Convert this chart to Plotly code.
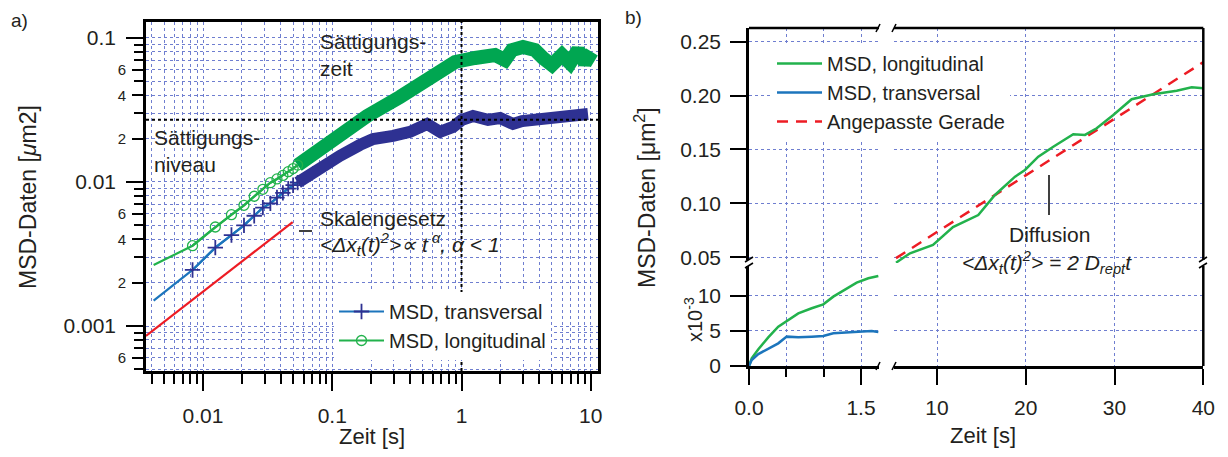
import plotly.graph_objects as go

# The page body keeps an 8 px margin, so the figure is 16 px smaller than the window
# and every reference pixel position is shifted by that margin.
WIN_W, WIN_H = 1228, 457
OFF = 8
W, H = WIN_W - 2 * OFF, WIN_H - 2 * OFF


def fx(p):
    return (p - OFF) / W


def fy(p):
    return 1 - (p - OFF) / H


# ---------------- Panel a) : log-log MSD ----------------
t_early = [0.00415, 0.0083, 0.01245, 0.0166, 0.02075, 0.0249, 0.02905,
           0.0332, 0.03735, 0.0415, 0.04565, 0.0498, 0.05395]
msd_long_early = [0.00265, 0.00361, 0.00487, 0.00593, 0.00689, 0.00796, 0.0089,
                  0.00989, 0.0105, 0.0111, 0.0118, 0.0124, 0.0131]
msd_trans_early = [0.0015, 0.00245, 0.0035, 0.00428, 0.0050, 0.00583, 0.00664,
                   0.0071, 0.0078, 0.0084, 0.0090, 0.0095, 0.0099]

t_long_band = [0.054, 0.1013, 0.1857, 0.334, 0.602, 0.891, 1.272, 1.816, 2.17,
               2.46, 2.99, 3.70, 4.27, 5.01, 5.99, 6.91, 7.97, 9.03, 10.2]
msd_long_band = [0.0131, 0.0196, 0.0287, 0.0389, 0.0528, 0.0681, 0.0726, 0.0762,
                 0.0703, 0.0825, 0.0866, 0.0825, 0.0726, 0.0649, 0.0762, 0.067,
                 0.0825, 0.067, 0.080]

t_trans_band = [0.054, 0.0804, 0.1013, 0.1148, 0.1639, 0.2067, 0.2951, 0.3995,
                0.541, 0.682, 0.859, 1.009, 1.227, 1.603, 1.986, 2.503, 2.938,
                3.575, 5.29, 6.55, 9.52]
msd_trans_band = [0.0099, 0.0127, 0.0140, 0.0152, 0.0181, 0.0199, 0.0209, 0.0223,
                  0.0253, 0.0223, 0.0241, 0.0270, 0.0287, 0.0270, 0.0278, 0.0253,
                  0.0265, 0.0270, 0.0283, 0.0287, 0.0297]

t_scaling = [0.00362, 0.0494]
msd_scaling = [0.000853, 0.00527]

saturation_time = 1.0
saturation_level = 0.027

a_xtick_vals = [0.01, 0.1, 1, 10]
a_xtick_text = ["0.01", "0.1", "1", "10"]
a_ytick_vals = [0.001, 0.01, 0.1]
a_ytick_text = ["0.001", "0.01", "0.1"]
a_ysmall_vals = [0.0006, 0.002, 0.004, 0.006, 0.02, 0.04, 0.06]
a_ysmall_text = ["6", "2", "4", "6", "2", "4", "6"]

# ---------------- Panel b) : linear, broken axes ----------------
t_short_long = [0, 0.036, 0.125, 0.258, 0.392, 0.505, 0.660, 0.840, 0.995,
                1.129, 1.286, 1.442, 1.598, 1.732]
msd_long_short_e3 = [0, 1.1, 2.37, 4.07, 5.59, 6.44, 7.48, 8.2, 8.76, 9.85,
                     10.8, 11.84, 12.46, 12.78]
t_short_trans = [0, 0.036, 0.125, 0.258, 0.392, 0.505, 0.660, 0.840, 0.995,
                 1.129, 1.286, 1.464, 1.643, 1.732]
msd_trans_short_e3 = [0, 0.85, 1.7, 2.5, 3.22, 4.17, 4.07, 4.17, 4.26, 4.64,
                      4.79, 4.88, 4.97, 4.83]

t_long = [5.38, 5.83, 6.96, 9.55, 11.8, 14.65, 16.53, 18.79, 19.91, 21.41, 23.1,
          25.35, 26.67, 27.99, 29.86, 31.93, 34.37, 37.0, 38.69, 40.0]
msd_long = [0.045, 0.0476, 0.0537, 0.0614, 0.078, 0.0892, 0.1078, 0.1248, 0.131,
            0.1433, 0.1526, 0.1641, 0.1635, 0.1697, 0.182, 0.1966, 0.2012,
            0.2045, 0.2077, 0.2068]

t_fit = [5.38, 40.0]
msd_fit = [0.0492, 0.231]

b_x_left_vals = [0, 1.5]
b_x_left_text = ["0.0", "1.5"]
b_x_left_minor = [0.5, 1.0]
b_x_right_vals = [10, 20, 30, 40]
b_y_low_vals = [0, 5, 10]
b_y_up_vals = [0.05, 0.10, 0.15, 0.20, 0.25]
b_y_up_text = ["0.05", "0.10", "0.15", "0.20", "0.25"]

# ---------------- styling ----------------
FONT = "Liberation Sans, Arial, Helvetica, sans-serif"
TXT = "#231F20"
GREEN_LINE = "#22B24C"
GREEN_BAND = "#00A651"
BLUE_LINE = "#1C75BC"
NAVY = "#2E3192"
RED = "#ED1C24"
GRID = "#6F7ED0"

fig = go.Figure()

# panel a traces
fig.add_trace(go.Scatter(x=t_trans_band, y=msd_trans_band, mode="lines",
                         line=dict(color=NAVY, width=12), showlegend=False,
                         xaxis="x", yaxis="y", hoverinfo="skip"))
fig.add_trace(go.Scatter(x=t_long_band, y=msd_long_band, mode="lines",
                         line=dict(color=GREEN_BAND, width=14), showlegend=False,
                         xaxis="x", yaxis="y", hoverinfo="skip"))
fig.add_trace(go.Scatter(x=t_scaling, y=msd_scaling, mode="lines",
                         line=dict(color=RED, width=2.2), showlegend=False,
                         xaxis="x", yaxis="y"))
fig.add_trace(go.Scatter(x=t_early, y=msd_trans_early, mode="lines",
                         line=dict(color=BLUE_LINE, width=2.2), showlegend=False,
                         xaxis="x", yaxis="y"))
fig.add_trace(go.Scatter(x=t_early, y=msd_long_early, mode="lines",
                         line=dict(color=GREEN_LINE, width=2.2), showlegend=False,
                         xaxis="x", yaxis="y"))
fig.add_trace(go.Scatter(x=t_early[1:], y=msd_trans_early[1:], mode="lines+markers",
                         name="MSD, transversal",
                         line=dict(color=BLUE_LINE, width=2.2),
                         marker=dict(symbol="cross-thin", size=11, color=NAVY,
                                     line=dict(color=NAVY, width=1.8)),
                         xaxis="x", yaxis="y", legend="legend"))
fig.add_trace(go.Scatter(x=t_early[1:], y=msd_long_early[1:], mode="lines+markers",
                         name="MSD, longitudinal",
                         line=dict(color=GREEN_LINE, width=2.2),
                         marker=dict(symbol="circle-open", size=10, color=GREEN_LINE,
                                     line=dict(color=GREEN_LINE, width=1.3)),
                         xaxis="x", yaxis="y", legend="legend"))
# reference lines (saturation time / level)
fig.add_trace(go.Scatter(x=[saturation_time, saturation_time], y=[10 ** -3.3125, 10 ** -0.889],
                         mode="lines", line=dict(color="black", width=2, dash="dot"),
                         showlegend=False, xaxis="x", yaxis="y"))
fig.add_trace(go.Scatter(x=[10 ** -2.441, 10 ** 1.056], y=[saturation_level, saturation_level],
                         mode="lines", line=dict(color="black", width=2, dash="dot"),
                         showlegend=False, xaxis="x", yaxis="y"))
# overlay axis for small labels
fig.add_trace(go.Scatter(x=[], y=[], xaxis="x", yaxis="y4", showlegend=False))

# panel b traces
fig.add_trace(go.Scatter(x=t_short_long, y=msd_long_short_e3, mode="lines",
                         name="MSD, longitudinal", line=dict(color=GREEN_LINE, width=2.5),
                         xaxis="x2", yaxis="y2", legend="legend2"))
fig.add_trace(go.Scatter(x=t_short_trans, y=msd_trans_short_e3, mode="lines",
                         name="MSD, transversal", line=dict(color=BLUE_LINE, width=2.5),
                         xaxis="x2", yaxis="y2", legend="legend2"))
fig.add_trace(go.Scatter(x=t_fit, y=msd_fit, mode="lines",
                         name="Angepasste Gerade",
                         line=dict(color=RED, width=2.5, dash="11px,8px"),
                         xaxis="x3", yaxis="y3", legend="legend2"))
fig.add_trace(go.Scatter(x=t_long, y=msd_long, mode="lines", showlegend=False,
                         line=dict(color=GREEN_LINE, width=2.5),
                         xaxis="x3", yaxis="y3"))
fig.add_trace(go.Scatter(x=[], y=[], xaxis="x2", yaxis="y3", showlegend=False))
fig.add_trace(go.Scatter(x=[], y=[], xaxis="x3", yaxis="y2", showlegend=False))

common = dict(showline=True, linecolor="black", linewidth=2.5, ticks="outside",
              tickcolor="black", tickwidth=2, zeroline=False, showgrid=True,
              gridcolor=GRID, gridwidth=1, griddash="dot", automargin=False,
              tickfont=dict(family=FONT, size=21, color=TXT))


def minor_log(lo, hi):
    vals = []
    for d in range(lo, hi):
        for m in range(2, 10):
            vals.append(m * 10.0 ** d)
    return vals


fig.update_layout(
    width=W, height=H, margin=dict(l=0, r=0, t=0, b=0, autoexpand=False),
    paper_bgcolor="white", plot_bgcolor="white",
    font=dict(family=FONT, color=TXT),
    xaxis=dict(common, type="log", range=[-2.441, 1.056], domain=[fx(146), fx(598)],
               anchor="y", mirror=True, ticklen=17, tickvals=a_xtick_vals,
               ticktext=a_xtick_text, ticklabelstandoff=7,
               minor=dict(tickvals=minor_log(-3, 2), ticklen=10, tickwidth=2,
                          ticks="outside", tickcolor="black", showgrid=True,
                          gridcolor=GRID, gridwidth=1, griddash="dot")),
    yaxis=dict(common, type="log", range=[-3.3125, -0.889], domain=[fy(371), fy(22)],
               anchor="x", mirror=True, ticklen=17, tickvals=a_ytick_vals,
               ticktext=a_ytick_text, ticklabelstandoff=6,
               minor=dict(tickvals=minor_log(-4, 0), ticklen=9, tickwidth=2,
                          ticks="outside", tickcolor="black", showgrid=True,
                          gridcolor=GRID, gridwidth=1, griddash="dot")),
    yaxis4=dict(type="log", range=[-3.3125, -0.889], domain=[fy(371), fy(22)],
                overlaying="y", anchor="x", side="left", showline=False,
                showgrid=False, zeroline=False, ticks="outside", ticklen=13,
                tickwidth=2, tickcolor="black", tickvals=a_ysmall_vals,
                ticktext=a_ysmall_text, ticklabelstandoff=3, automargin=False,
                tickfont=dict(family=FONT, size=15, color=TXT)),
    xaxis2=dict(common, range=[0, 1.741], domain=[fx(749), fx(879)], anchor="y2",
                ticklen=16, tickvals=b_x_left_vals, ticktext=b_x_left_text,
                ticklabelstandoff=5,
                minor=dict(tickvals=b_x_left_minor, ticklen=8, tickwidth=2,
                           ticks="outside", tickcolor="black", showgrid=True,
                           gridcolor=GRID, gridwidth=1, griddash="dot")),
    xaxis3=dict(common, range=[5.156, 40], domain=[fx(894), fx(1203.3)], anchor="y2",
                ticklen=16, tickvals=b_x_right_vals, ticklabelstandoff=5),
    yaxis2=dict(common, range=[0, 14.63], domain=[fy(366), fy(263)], anchor="x2",
                ticklen=16, tickvals=b_y_low_vals, ticklabelstandoff=5),
    yaxis3=dict(common, range=[0.0447, 0.2627], domain=[fy(263), fy(28)], anchor="x2",
                ticklen=16, tickvals=b_y_up_vals, ticktext=b_y_up_text,
                ticklabelstandoff=5),
    legend=dict(x=fx(334), y=fy(292), xanchor="left", yanchor="top",
                bgcolor="white", borderwidth=0, itemwidth=45,
                font=dict(family=FONT, size=20, color=TXT)),
    legend2=dict(x=fx(772), y=fy(44), xanchor="left", yanchor="top",
                 bgcolor="white", borderwidth=0, itemwidth=45,
                 font=dict(family=FONT, size=20, color=TXT)),
)

ann = []


def add_text(text, x, y, size=21, xanchor="left", yanchor="middle", angle=0, align="left"):
    ann.append(dict(text=text, x=fx(x), y=fy(y), xref="paper", yref="paper",
                    showarrow=False, xanchor=xanchor, yanchor=yanchor,
                    textangle=angle, align=align,
                    font=dict(family=FONT, size=size, color=TXT)))


add_text("a)", 9, 20, size=19)
add_text("b)", 623, 18, size=19)
add_text("Sättigungs-<br>zeit", 318, 55)
add_text("Sättigungs-<br>niveau", 152, 151)
add_text("Skalengesetz", 318, 218)
add_text("<i>&lt;Δx<sub>t</sub>(t)<sup>2</sup>&gt;∝ t<sup> α</sup>, α &lt; 1</i>", 318, 244)
add_text("Diffusion", 1049, 234, xanchor="center")
add_text("<i>&lt;Δx<sub>t</sub>(t)<sup>2</sup>&gt; = 2 D<sub>rept</sub>t</i>", 1047, 262,
         xanchor="center")
add_text("MSD-Daten [<i>μ</i>m2]", 28, 197, size=23, xanchor="center", angle=-90)
add_text("MSD-Daten [μm<sup>2</sup>]", 645, 197, size=23, xanchor="center", angle=-90)
add_text("Zeit [s]", 372, 436, size=22, xanchor="center")
add_text("Zeit [s]", 983, 435, size=22, xanchor="center")
add_text("x10<sup>-3</sup>", 693, 320, size=20, xanchor="center", angle=-90)
fig.update_layout(annotations=ann)


def seg(x0, y0, x1, y1, w=2.5, color="black"):
    return dict(type="line", xref="paper", yref="paper", x0=fx(x0), y0=fy(y0),
                x1=fx(x1), y1=fy(y1), line=dict(color=color, width=w), layer="above")


shapes = [
    # leader lines
    seg(299, 231, 312, 231, w=1.5),
    seg(1049, 175, 1049, 215, w=1.5),
    # panel b frame (top, right) with breaks
    seg(749, 28, 879, 28),
    seg(894, 28, 1203.3, 28),
    seg(1203.3, 28, 1203.3, 260),
    seg(1203.3, 266, 1203.3, 366),
    # break marks
    seg(876, 32, 880, 24, w=1.5), seg(892, 32, 896, 24, w=1.5),
    seg(876, 370, 880, 362, w=1.5), seg(892, 370, 896, 362, w=1.5),
    dict(type="rect", xref="paper", yref="paper", x0=fx(746), x1=fx(752),
         y0=fy(266), y1=fy(260), fillcolor="white", line=dict(width=0), layer="above"),
    seg(745, 262, 753, 257, w=1.5), seg(745, 268, 753, 263, w=1.5),
    seg(1199, 262, 1207, 257, w=1.5), seg(1199, 268, 1207, 263, w=1.5),
]
fig.update_layout(shapes=shapes)

fig.write_html("out.html")
